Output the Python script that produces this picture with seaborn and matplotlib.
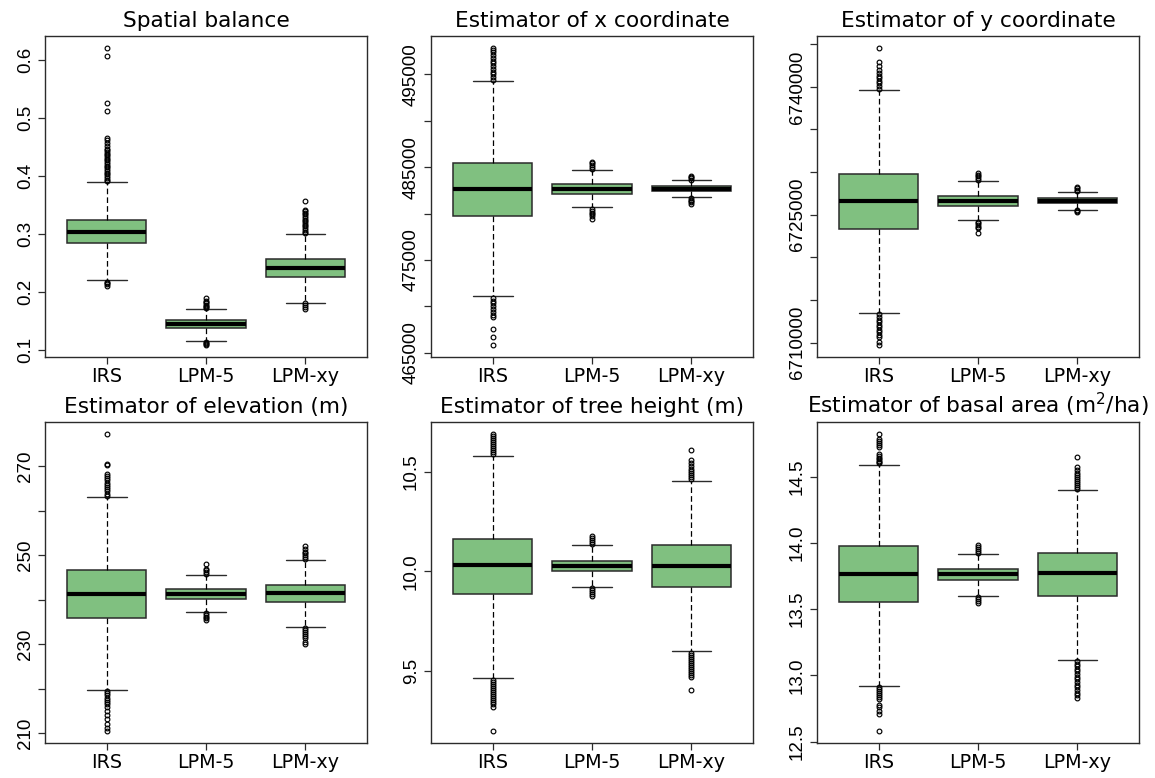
import seaborn as sns
import matplotlib.pyplot as plt

groups = ["IRS", "LPM-5", "LPM-xy"]

titles = ["Spatial balance",
          "Estimator of x coordinate",
          "Estimator of y coordinate",
          "Estimator of elevation (m)",
          "Estimator of tree height (m)",
          r"Estimator of basal area (m$^2$/ha)"]

# box stats: [lower whisker, q1, median, q3, upper whisker]
balance_stats = [[0.221, 0.284, 0.303, 0.325, 0.389],
                 [0.1155, 0.137, 0.145, 0.152, 0.171],
                 [0.181, 0.226, 0.2415, 0.257, 0.300]]
balance_out = [[0.217, 0.215, 0.213, 0.211,
                0.391, 0.394, 0.397, 0.400, 0.403, 0.406, 0.409, 0.412, 0.415, 0.418,
                0.421, 0.424, 0.427, 0.430, 0.433, 0.436, 0.439, 0.442, 0.445, 0.447,
                0.452, 0.458, 0.463, 0.466, 0.512, 0.527, 0.607, 0.622],
               [0.113, 0.111, 0.110, 0.108,
                0.172, 0.174, 0.176, 0.178, 0.180, 0.182, 0.185, 0.190],
               [0.180, 0.177, 0.174, 0.171,
                0.301, 0.304, 0.307, 0.310, 0.313, 0.316, 0.319, 0.322, 0.325, 0.328,
                0.331, 0.334, 0.337, 0.339, 0.341, 0.357]]

x_stats = [[471094, 479718, 482664, 485431, 494246],
           [480650, 482125, 482664, 483200, 484713],
           [481766, 482377, 482664, 482916, 483563]]
x_out = [[470900, 470600, 470300, 470000, 469700, 469400, 469100, 468800,
          467500, 466700, 465800,
          494400, 494700, 495000, 495300, 495600, 495900, 496200, 496500,
          496800, 497100, 497400, 497600, 497900],
         [480500, 480300, 480100, 479900, 479700, 479450,
          484800, 485000, 485200, 485400, 485600],
         [481650, 481500, 481350, 481200, 481000,
          483650, 483800, 483950, 484100]]

y_stats = [[6713510, 6723275, 6726569, 6729824, 6739667],
           [6724333, 6725980, 6726608, 6727196, 6728922],
           [6725588, 6726373, 6726647, 6726922, 6727667]]
y_out = [[6713300, 6713000, 6712700, 6712400, 6712100, 6711800, 6711500, 6711200,
          6710900, 6710600, 6710100, 6709700,
          6739800, 6740100, 6740400, 6740700, 6741000, 6741300, 6741600, 6742000,
          6742400, 6742900, 6744600],
         [6724200, 6724000, 6723800, 6723600, 6723400, 6722900,
          6729100, 6729300, 6729500, 6729700, 6729900],
         [6725500, 6725400, 6725300,
          6727800, 6727950, 6728100, 6728200]]

elev_stats = [[219.8, 235.8, 241.3, 246.7, 263.0],
              [237.2, 240.2, 241.3, 242.4, 245.6],
              [233.9, 239.4, 241.5, 243.3, 249.0]]
elev_out = [[219.5, 219.0, 218.5, 218.0, 217.5, 217.0, 216.5, 216.0, 215.0, 214.1,
             213.2, 212.2, 211.1, 210.5,
             263.3, 263.8, 264.3, 264.8, 265.3, 265.8, 266.3, 266.8, 267.3, 267.8,
             268.3, 270.2, 270.5, 277.3],
            [237.0, 236.6, 236.2, 235.8, 235.5,
             245.8, 246.2, 246.6, 247.0, 248.0],
            [233.6, 233.2, 232.8, 232.4, 231.9, 231.3, 230.6, 230.0,
             249.2, 249.6, 250.0, 250.4, 250.8, 251.3, 252.0]]

height_stats = [[9.466, 9.888, 10.032, 10.162, 10.580],
                [9.921, 10.000, 10.027, 10.054, 10.132],
                [9.598, 9.921, 10.030, 10.131, 10.456]]
height_out = [[9.455, 9.445, 9.435, 9.425, 9.415, 9.405, 9.395, 9.385, 9.375, 9.365,
               9.355, 9.345, 9.335, 9.32, 9.198,
               10.59, 10.60, 10.61, 10.62, 10.63, 10.64, 10.65, 10.66, 10.67,
               10.68, 10.693],
              [9.915, 9.905, 9.895, 9.885, 9.875,
               10.14, 10.15, 10.16, 10.17, 10.18],
              [9.59, 9.58, 9.57, 9.56, 9.55, 9.54, 9.53, 9.52, 9.51, 9.50, 9.49,
               9.48, 9.47, 9.404,
               10.465, 10.475, 10.485, 10.495, 10.505, 10.515, 10.53, 10.545,
               10.558, 10.608]]

basal_stats = [[12.920, 13.552, 13.766, 13.977, 14.591],
               [13.60, 13.72, 13.766, 13.80, 13.92],
               [13.12, 13.602, 13.77, 13.924, 14.40]]
basal_out = [[12.91, 12.895, 12.88, 12.865, 12.85, 12.835, 12.82, 12.78, 12.76,
              12.73, 12.71, 12.58,
              14.60, 14.61, 14.62, 14.63, 14.64, 14.655, 14.67, 14.72, 14.74,
              14.755, 14.77, 14.785, 14.825],
             [13.59, 13.575, 13.56, 13.545,
              13.925, 13.94, 13.955, 13.97, 13.985],
             [13.11, 13.09, 13.07, 13.05, 13.03, 13.01, 12.99, 12.97, 12.95, 12.93,
              12.91, 12.89, 12.87, 12.85, 12.83,
              14.41, 14.42, 14.435, 14.45, 14.465, 14.48, 14.495, 14.51, 14.53,
              14.55, 14.57, 14.65]]

# y ticks and which of them carry a label
ticks = [[0.1, 0.2, 0.3, 0.4, 0.5, 0.6],
         [465000, 470000, 475000, 480000, 485000, 490000, 495000],
         [6710000, 6715000, 6720000, 6725000, 6730000, 6735000, 6740000, 6745000],
         [210, 220, 230, 240, 250, 260, 270],
         [9.5, 10.0, 10.5],
         [12.5, 13.0, 13.5, 14.0, 14.5]]
tick_labels = [["0.1", "0.2", "0.3", "0.4", "0.5", "0.6"],
               ["465000", "", "475000", "", "485000", "", "495000"],
               ["6710000", "", "", "6725000", "", "", "6740000", ""],
               ["210", "", "230", "", "250", "", "270"],
               ["9.5", "10.0", "10.5"],
               ["12.5", "13.0", "13.5", "14.0", "14.5"]]

all_stats = [balance_stats, x_stats, y_stats, elev_stats, height_stats, basal_stats]
all_out = [balance_out, x_out, y_out, elev_out, height_out, basal_out]

sns.set_theme(style="ticks")
plt.rcParams['font.family'] = ['DejaVu Sans']
plt.rcParams['text.color'] = 'black'
plt.rcParams['xtick.labelcolor'] = 'black'
plt.rcParams['ytick.labelcolor'] = 'black'

green = "#80c080"
edge = "#2b2b2b"

fig = plt.figure(figsize=(11.55, 7.78), dpi=100)
lefts = [0.0390, 0.3732, 0.7074]
bottoms = [0.5411, 0.0450]

for i in range(6):
    ax = fig.add_axes([lefts[i % 3], bottoms[i // 3], 0.2788, 0.4130])
    stats = []
    for g, s, out in zip(groups, all_stats[i], all_out[i]):
        stats.append(dict(label=g, whislo=s[0], q1=s[1], med=s[2], q3=s[3],
                          whishi=s[4], fliers=out))
    ax.bxp(stats, positions=[1, 2, 3], widths=0.8, capwidths=0.4,
           patch_artist=True,
           boxprops=dict(facecolor=green, edgecolor=edge, linewidth=1.1),
           medianprops=dict(color="black", linewidth=3, solid_capstyle="butt"),
           whiskerprops=dict(color="black", linewidth=0.9, linestyle=(0, (4.5, 2.5))),
           capprops=dict(color=edge, linewidth=1.0),
           flierprops=dict(marker="o", markersize=3.4, markerfacecolor="none",
                           markeredgecolor="black", markeredgewidth=0.85))

    # R style range: data extent plus 4 percent each side
    vals = [v for s in all_stats[i] for v in s] + [v for o in all_out[i] for v in o]
    lo, hi = min(vals), max(vals)
    pad = 0.04 * (hi - lo)
    ax.set_ylim(lo - pad, hi + pad)
    ax.set_xlim(0.38, 3.62)

    ax.set_yticks(ticks[i])
    ax.set_yticklabels(tick_labels[i], rotation=90, va="center",
                       family="Liberation Sans", fontsize=13.5, color="black")
    ax.set_xticks([1, 2, 3])
    ax.set_xticklabels(groups, fontsize=13.8, color="black")
    ax.tick_params(axis="both", length=5, width=0.9, color=edge, pad=3)
    ax.tick_params(axis="x", pad=2)
    for sp in ax.spines.values():
        sp.set_color(edge)
        sp.set_linewidth(1.0)
    ax.set_title(titles[i], fontsize=15.6, pad=6, color="black")

fig.savefig("out.png", dpi=100)
